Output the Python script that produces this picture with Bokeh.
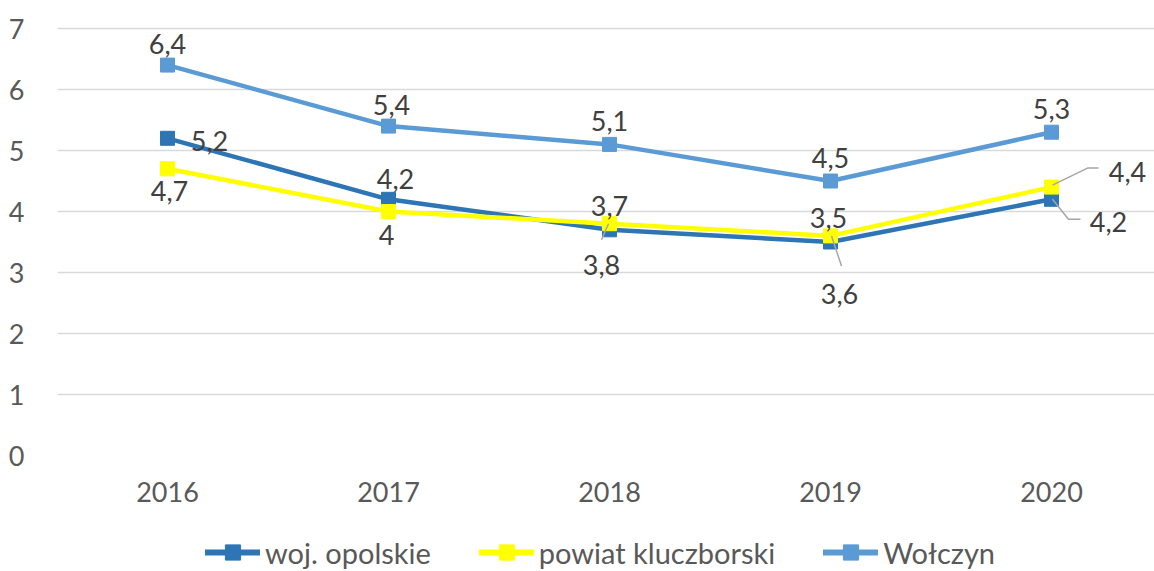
from bokeh.plotting import figure
from bokeh.layouts import column
from bokeh.models import ColumnDataSource, Legend, LegendItem, FixedTicker, Range1d
from bokeh.embed import file_html
from bokeh.resources import INLINE
from bokeh.core.properties import value

# ---------------- data ----------------
years = [2016, 2017, 2018, 2019, 2020]
year_labels = ["2016", "2017", "2018", "2019", "2020"]
woj_opolskie = [5.2, 4.2, 3.7, 3.5, 4.2]
powiat_kluczborski = [4.7, 4.0, 3.8, 3.6, 4.4]
wolczyn = [6.4, 5.4, 5.1, 4.5, 5.3]
series_names = ["woj. opolskie", "powiat kluczborski", "Wołczyn"]
y_ticks = [0, 1, 2, 3, 4, 5, 6, 7]

# ---------------- styles / layout ----------------
colors = ["#2E75B6", "#FFFF00", "#5B9BD5"]
FONT = "Lato"
FS = "27px"
W = 1154
H1, H2 = 531, 40
LEFT = 57
FRAME_H = 455
PX_PER_X = 221.0
PX_PER_Y = 61.0
X0 = 2016 - 110 / PX_PER_X
X1 = X0 + (W - LEFT) / PX_PER_X
Y1 = FRAME_H / PX_PER_Y

# label offsets in pixels (dx, dy; dy downward) per series / point
label_offsets = [
    [(42, 3), (7, -20), (0, -24), (-2, -24), (57, 23)],
    [(2, 22), (-2, 23), (-8, 41), (9, 58), (76, -15)],
    [(0, -21), (3, -21), (0, -23), (0, -23), (0, -23)],
]
# leader lines: (series index, point index, list of pixel offsets)
leaders = [
    (1, 2, [(-8, 16), (-1, 0)]),
    (1, 3, [(1, 0), (11, 30)]),
    (1, 4, [(1, -2), (36, -19), (47, -19)]),
    (0, 4, [(1, 0), (17, 20), (29, 20)]),
]

p1 = figure(width=W, height=H1, output_backend="svg", toolbar_location=None,
            x_range=Range1d(X0, X1), y_range=Range1d(0, Y1),
            min_border_left=LEFT, min_border_right=0, min_border_top=0,
            min_border_bottom=H1 - FRAME_H)
p1.outline_line_color = None
p1.xgrid.grid_line_color = None
p1.ygrid.grid_line_color = "#D9D9D9"
p1.ygrid.grid_line_width = 1.5
p1.ygrid.ticker = FixedTicker(ticks=y_ticks)

p1.yaxis.ticker = FixedTicker(ticks=y_ticks)
p1.xaxis.ticker = FixedTicker(ticks=years)
p1.xaxis.major_label_overrides = {y: l for y, l in zip(years, year_labels)}
for ax in (p1.xaxis, p1.yaxis):
    ax.axis_line_color = None
    ax.major_tick_line_color = None
    ax.minor_tick_line_color = None
    ax.major_tick_in = 0
    ax.major_tick_out = 0
    ax.major_label_text_font = FONT
    ax.major_label_text_font_size = FS
    ax.major_label_text_color = "#595959"
p1.yaxis.major_label_standoff = 33
p1.xaxis.major_label_standoff = 26

all_series = [woj_opolskie, powiat_kluczborski, wolczyn]
for vals, col in zip(all_series, colors):
    src = ColumnDataSource(dict(x=years, y=vals))
    p1.line("x", "y", source=src, line_color=col, line_width=4.5)
    p1.scatter("x", "y", source=src, marker="square", size=14,
               fill_color=col, line_color=col)

# leader lines
for si, pi, pts in leaders:
    bx, by = years[pi], all_series[si][pi]
    xs = [bx + dx / PX_PER_X for dx, dy in pts]
    ys = [by - dy / PX_PER_Y for dx, dy in pts]
    p1.line(xs, ys, line_color="#A6A6A6", line_width=1.5)

# data labels
for vals, offs in zip(all_series, label_offsets):
    txt = [f"{v:g}".replace(".", ",") for v in vals]
    src = ColumnDataSource(dict(x=years, y=vals, t=txt,
                                xo=[o[0] for o in offs], yo=[o[1] for o in offs]))
    p1.text("x", "y", text="t", x_offset="xo", y_offset="yo", source=src,
            text_align="center", text_baseline="middle",
            text_font=value(FONT), text_font_size=value(FS), text_color="#404040")

# ---------------- legend strip ----------------
p2 = figure(width=W, height=H2, output_backend="svg", toolbar_location=None,
            x_range=Range1d(0, 1), y_range=Range1d(0, 1),
            x_axis_location=None, y_axis_location=None,
            min_border_left=0, min_border_right=0, min_border_top=0,
            min_border_bottom=0)
p2.outline_line_color = None
p2.grid.grid_line_color = None
items = []
for name, col in zip(series_names, colors):
    off = ColumnDataSource(dict(x=[-10, -9], y=[-10, -10]))  # outside the visible range
    lr = p2.line("x", "y", source=off, line_color=col, line_width=6,
                 line_cap="round")
    sr = p2.scatter("x", "y", source=off, marker="square", size=15,
                    fill_color=col, line_color=col)
    items.append(LegendItem(label=name, renderers=[lr, sr]))

legend = Legend(items=items, orientation="horizontal", location=(148, 0),
                padding=0, margin=0, spacing=48, glyph_width=55, glyph_height=38,
                label_standoff=5, label_text_font=FONT, label_text_font_size="29px",
                label_text_color="#595959", border_line_color=None,
                background_fill_alpha=0)
p2.add_layout(legend)

layout = column(p1, p2, spacing=0)
open("out.html", "w").write(file_html(layout, INLINE))
